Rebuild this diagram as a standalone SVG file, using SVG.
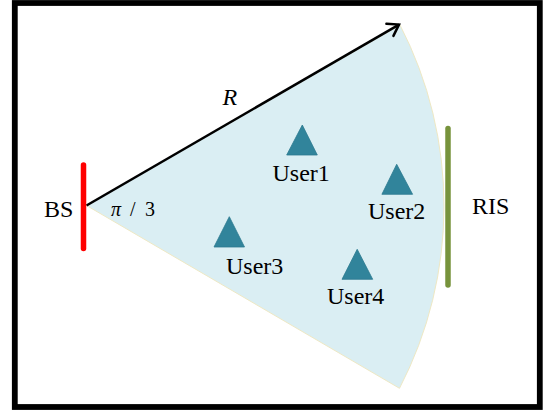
<svg xmlns="http://www.w3.org/2000/svg" width="549" height="415" viewBox="0 0 549 415">
  <style>
    text { font-family: 'Liberation Serif', 'DejaVu Serif', serif; fill: #000; }
    .lbl { font-size: 24px; }
    .pi { font-size: 20px; }
    .it { font-style: italic; }
    .user { fill: #31849B; stroke: #2C7A8F; stroke-width: 0.8; }
    .sector { fill: #DAEEF3; stroke: #EEE8C4; stroke-width: 1; }
  </style>
  <defs>
    <marker id="arrowOpen" markerUnits="userSpaceOnUse" markerWidth="20" markerHeight="20" viewBox="-14 -10 16 20" refX="0" refY="0" orient="auto">
      <path d="M -10.5 -7 L 0 0 L -10.5 7" fill="none" stroke="#000" stroke-width="2.5" stroke-linecap="round" stroke-linejoin="miter"/>
    </marker>
  </defs>
  <rect x="0" y="0" width="549" height="415" fill="#fff"/>
  <rect x="14.8" y="3" width="525" height="404" fill="#fff" stroke="#000" stroke-width="5.8"/>

  <g id="coverage">
    <path class="sector" d="M 86.5 205.5 L 400 25 A 395 395 0 0 1 399.5 388.3 Z"/>
  </g>

  <g id="connectors">
    <line x1="86.5" y1="205.5" x2="399" y2="24.6" stroke="#000" stroke-width="2.5" marker-end="url(#arrowOpen)"/>
  </g>
  <text class="lbl it" x="222.5" y="105" font-family="'Liberation Serif', serif">R</text>
  <text class="pi" font-family="'Liberation Serif', serif"><tspan class="it" x="111" y="215.7">π</tspan><tspan x="130" y="215.7">/</tspan><tspan x="145" y="215.7">3</tspan></text>

  <g id="BS">
    <line x1="83.5" y1="165" x2="83.5" y2="248.5" stroke="#FF0000" stroke-width="5.5" stroke-linecap="round"/>
    <text class="lbl" x="44" y="216.5" font-family="'Liberation Serif', serif">BS</text>
  </g>

  <g id="RIS">
    <line x1="448" y1="128.5" x2="448" y2="285" stroke="#77933C" stroke-width="5.5" stroke-linecap="round"/>
    <text class="lbl" x="472" y="214" font-family="'Liberation Serif', serif">RIS</text>
  </g>

  <g id="User1">
    <polygon class="user" points="302.3,125 286.7,155 317.3,155"/>
    <text class="lbl" x="272.5" y="181" font-family="'Liberation Serif', serif">User1</text>
  </g>
  <g id="User2">
    <polygon class="user" points="396.7,164.3 381.9,194.3 412.6,194.3"/>
    <text class="lbl" x="368" y="219" font-family="'Liberation Serif', serif">User2</text>
  </g>
  <g id="User3">
    <polygon class="user" points="229.3,216.7 214,247 244.5,247"/>
    <text class="lbl" x="226" y="273.5" font-family="'Liberation Serif', serif">User3</text>
  </g>
  <g id="User4">
    <polygon class="user" points="357.2,249.3 342,279.3 372.7,279.3"/>
    <text class="lbl" x="327" y="304" font-family="'Liberation Serif', serif">User4</text>
  </g>
</svg>
